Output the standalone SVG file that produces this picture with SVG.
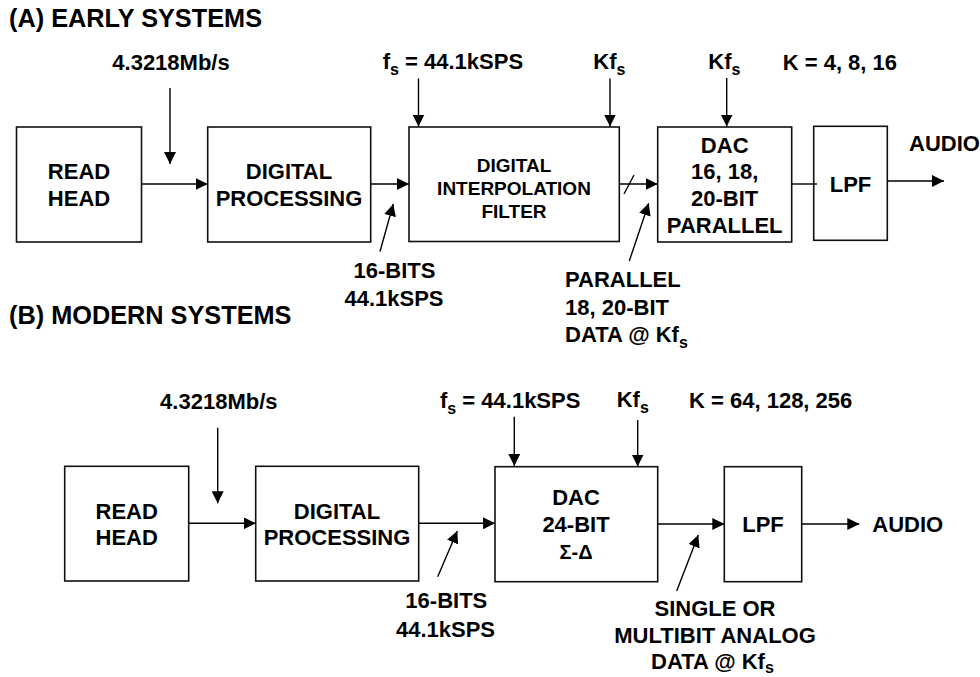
<svg xmlns="http://www.w3.org/2000/svg" width="980" height="677" viewBox="0 0 980 677">
<defs>
<marker id="ah" markerUnits="userSpaceOnUse" markerWidth="12" markerHeight="12" refX="12" refY="6" orient="auto"><path d="M0,0 L12,6 L0,12 z" fill="#000"/></marker>
</defs>
<style>
text{font-family:"Liberation Sans",Arial,sans-serif;font-weight:bold;fill:#000;font-size:22px}
.t{font-size:25.3px}
.m{text-anchor:middle}
.s19{font-size:19px}
.sub{font-size:16px}
.box{fill:#fff;stroke:#111;stroke-width:1.6}
.c line{stroke:#000;stroke-width:1.4;fill:none}
.c .a{marker-end:url(#ah)}
</style>
<rect x="0" y="0" width="980" height="677" fill="#fff"/>

<!-- Part A -->
<text class="t" x="9" y="27">(A) EARLY SYSTEMS</text>

<g id="a_read"><rect class="box" x="16.5" y="127" width="125" height="115"/>
<text class="m" x="79" y="179">READ</text><text class="m" x="79" y="206">HEAD</text></g>
<g id="a_dp"><rect class="box" x="207.7" y="127" width="163" height="115"/>
<text class="m" x="289" y="179">DIGITAL</text><text class="m" x="289" y="206">PROCESSING</text></g>
<g id="a_interp"><rect class="box" x="409" y="127" width="210.3" height="114.5"/>
<text class="m s19" x="514" y="171.7">DIGITAL</text><text class="m s19" x="514" y="195">INTERPOLATION</text><text class="m s19" x="514" y="218.3">FILTER</text></g>
<g id="a_dac"><rect class="box" x="657.7" y="127" width="134" height="115"/>
<text class="m" x="724.7" y="152.7">DAC</text><text class="m" x="724.7" y="179.3">16, 18,</text><text class="m" x="724.7" y="206">20-BIT</text><text class="m" x="724.7" y="232.7">PARALLEL</text></g>
<g id="a_lpf"><rect class="box" x="813.7" y="126.3" width="73.6" height="114"/>
<text class="m" x="850.5" y="192">LPF</text></g>

<g class="c" id="a_connectors">
<line class="a" x1="170" y1="88" x2="170" y2="164"/>
<line class="a" x1="141.5" y1="184" x2="207.7" y2="184"/>
<line class="a" x1="370.7" y1="184" x2="409" y2="184"/>
<line class="a" x1="380" y1="251.5" x2="393.3" y2="204"/>
<line class="a" x1="418.5" y1="78.5" x2="418.5" y2="126.5"/>
<line class="a" x1="610" y1="78.5" x2="610" y2="126.5"/>
<line class="a" x1="619.3" y1="184" x2="657.7" y2="184"/>
<line x1="624" y1="194" x2="634" y2="175"/>
<line class="a" x1="629.3" y1="261" x2="648.7" y2="203.3"/>
<line class="a" x1="726.7" y1="78" x2="726.7" y2="126.5"/>
<line x1="791.7" y1="184" x2="817" y2="184"/>
<line class="a" x1="887.3" y1="181" x2="944" y2="181"/>
</g>

<text class="m" x="171" y="70">4.3218Mb/s</text>
<text x="382.7" y="68.5">f<tspan class="sub" dy="6">s</tspan><tspan dy="-6"> = 44.1kSPS</tspan></text>
<text x="593.3" y="68.5">Kf<tspan class="sub" dy="6">s</tspan></text>
<text x="708.3" y="68.5">Kf<tspan class="sub" dy="6">s</tspan></text>
<text x="782.7" y="70">K = 4, 8, 16</text>
<text x="909" y="151">AUDIO</text>
<text class="m" x="394.5" y="278">16-BITS</text>
<text class="m" x="394" y="306">44.1kSPS</text>
<text x="565" y="287.3">PARALLEL</text>
<text x="565" y="315">18, 20-BIT</text>
<text x="565" y="341.7">DATA @ Kf<tspan class="sub" dy="6">s</tspan></text>

<!-- Part B -->
<text class="t" x="9" y="324">(B) MODERN SYSTEMS</text>

<g id="b_read"><rect class="box" x="64.7" y="466.3" width="124" height="114.7"/>
<text class="m" x="126.7" y="519">READ</text><text class="m" x="126.7" y="545">HEAD</text></g>
<g id="b_dp"><rect class="box" x="255.7" y="466.3" width="163" height="114.7"/>
<text class="m" x="337" y="519">DIGITAL</text><text class="m" x="337" y="545">PROCESSING</text></g>
<g id="b_dac"><rect class="box" x="495" y="466.7" width="162.7" height="115"/>
<text class="m" x="576" y="505">DAC</text><text class="m" x="576" y="532.3">24-BIT</text><text class="m" x="576" y="559" style="font-size:20px">Σ-Δ</text></g>
<g id="b_lpf"><rect class="box" x="724.3" y="466.7" width="77.4" height="115"/>
<text class="m" x="763" y="532.3">LPF</text></g>

<g class="c" id="b_connectors">
<line class="a" x1="217.7" y1="427.7" x2="217.7" y2="503.3"/>
<line class="a" x1="188.7" y1="523.3" x2="255.7" y2="523.3"/>
<line class="a" x1="418.7" y1="523.3" x2="495" y2="523.3"/>
<line class="a" x1="437.7" y1="576.7" x2="457.3" y2="531"/>
<line class="a" x1="514.3" y1="416.7" x2="514.3" y2="466"/>
<line class="a" x1="637.7" y1="420" x2="637.7" y2="466.5"/>
<line class="a" x1="657.7" y1="524" x2="724.3" y2="524"/>
<line class="a" x1="801.7" y1="524" x2="859.3" y2="524"/>
<line class="a" x1="676.7" y1="591" x2="698.3" y2="535"/>
</g>

<text class="m" x="218.8" y="409">4.3218Mb/s</text>
<text x="440" y="408">f<tspan class="sub" dy="6">s</tspan><tspan dy="-6"> = 44.1kSPS</tspan></text>
<text x="616.7" y="407">Kf<tspan class="sub" dy="6">s</tspan></text>
<text x="689" y="407.5">K = 64, 128, 256</text>
<text x="872.3" y="532.3">AUDIO</text>
<text class="m" x="446.3" y="608.3">16-BITS</text>
<text class="m" x="445.5" y="637.3">44.1kSPS</text>
<text class="m" x="715" y="616">SINGLE OR</text>
<text class="m" x="715" y="643.3">MULTIBIT ANALOG</text>
<text x="651" y="669">DATA @ Kf<tspan class="sub" dy="4">s</tspan></text>
</svg>
